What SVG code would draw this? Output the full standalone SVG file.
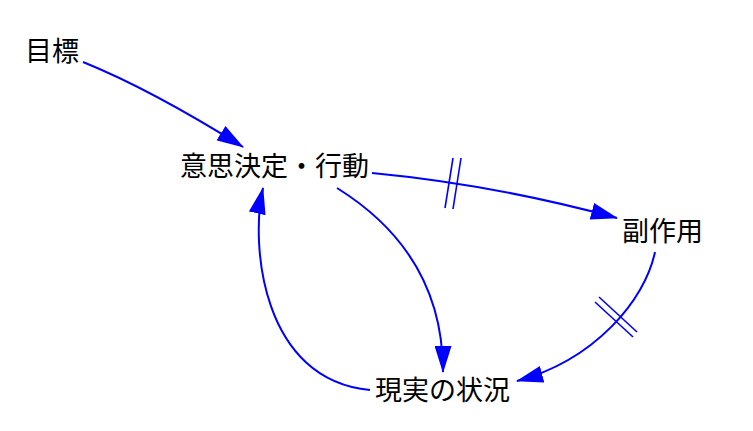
<svg xmlns="http://www.w3.org/2000/svg" width="753" height="431" viewBox="0 0 753 431">
<style>
.lbl{font-family:"Noto Sans CJK JP","Noto Sans CJK SC",sans-serif;font-size:27px;fill:#000}
.arr{fill:none;stroke:#0000ff;stroke-width:2}
.hash{stroke:#0000ff;stroke-width:1.6;fill:none}
</style>
<defs>
<marker id="ah" viewBox="0 0 27 17" refX="26" refY="8.5" markerWidth="27" markerHeight="17" markerUnits="userSpaceOnUse" orient="auto">
<path d="M0,0 L27,8.5 L0,17 z" fill="#0000ff"/>
</marker>
</defs>
<rect width="753" height="431" fill="#fff"/>
<g id="connectors">
<path class="arr" d="M83,62 Q151,89.5 243,147" marker-end="url(#ah)"/>
<path class="arr" d="M372,173 Q493.5,184.5 617,218" marker-end="url(#ah)"/>
<path class="arr" d="M337,188 Q443,254 443,372" marker-end="url(#ah)"/>
<path class="arr" d="M370,390 C262,380 250,245 263,188" marker-end="url(#ah)"/>
<path class="arr" d="M655,252 C645,300 595,360 517,381" marker-end="url(#ah)"/>
<g id="delay1">
<line class="hash" x1="445" y1="208" x2="453" y2="158"/>
<line class="hash" x1="453" y1="209" x2="461" y2="158"/>
</g>
<g id="delay2">
<line class="hash" x1="595" y1="302" x2="633" y2="337"/>
<line class="hash" x1="599" y1="297" x2="637" y2="332"/>
</g>
</g>
<g id="goal"><text class="lbl" x="25" y="61">目標</text></g>
<g id="decision"><text class="lbl" x="180" y="176">意思決定・行動</text></g>
<g id="side-effect"><text class="lbl" x="622" y="241">副作用</text></g>
<g id="reality"><text class="lbl" x="375" y="400">現実の状況</text></g>
</svg>
